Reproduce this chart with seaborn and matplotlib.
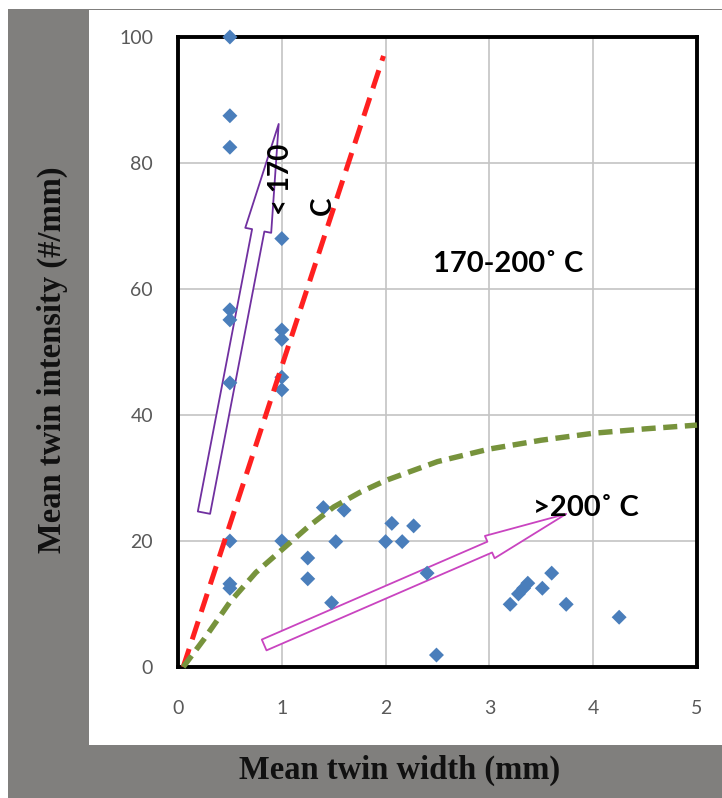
import numpy as np
import pandas as pd
import matplotlib
matplotlib.use("Agg")
import matplotlib.pyplot as plt
import seaborn as sns
from matplotlib.patches import Rectangle

# ---------------- data ----------------
width_mm = [0.5, 0.5, 0.5, 1.0, 0.5, 0.5, 1.0, 1.0, 0.5, 1.0, 1.0,
            0.5, 1.0, 0.5, 0.5, 1.25, 1.25, 1.4, 1.6, 1.52, 1.48,
            2.0, 2.06, 2.27, 2.16, 2.4, 2.49,
            3.2, 3.28, 3.33, 3.37, 3.51, 3.6, 3.74, 4.25]
intensity = [100, 87.5, 82.5, 68, 56.7, 55.1, 53.5, 52, 45.1, 46, 44,
             20, 20, 13.2, 12.5, 17.3, 14, 25.3, 24.9, 19.9, 10.2,
             19.9, 22.8, 22.4, 19.9, 14.9, 1.9,
             9.95, 11.6, 12.5, 13.3, 12.5, 14.9, 9.95, 7.9]

red_x = [0.05, 1.98]
red_y = [0, 97]

green_x = [0.05, 0.25, 0.5, 0.75, 1.0, 1.25, 1.5, 1.75, 2.0, 2.5, 3.0, 3.5, 4.0, 4.5, 5.0]
green_y = [0, 4.4, 10.3, 15.0, 18.6, 22.2, 25.4, 27.7, 29.6, 32.6, 34.6, 36.0, 37.1, 37.8, 38.4]

x_ticks = [0, 1, 2, 3, 4, 5]
y_ticks = [0, 20, 40, 60, 80, 100]

purple_tail = (0.25, 24.5)
purple_tip = (0.97, 86.2)
magenta_tail = (0.83, 3.5)
magenta_tip = (3.74, 24.3)

label_mid = "170-200˚ C"
label_high = ">200˚ C"
label_low = "< 170\nC"

# ---------------- style ----------------
sns.set_theme(style="white")
plt.rcParams["font.family"] = ["Lato", "DejaVu Sans"]

W, H = 722, 798
fig = plt.figure(figsize=(W / 100, H / 100), dpi=100)
fig.patch.set_facecolor("white")

gray = "#807f7d"
fig.add_artist(Rectangle((8 / W, 0), 1 - 8 / W, 1 - 9 / H, transform=fig.transFigure,
                         facecolor=gray, edgecolor="none", zorder=-3))
fig.add_artist(Rectangle((89 / W, 1 - 745 / H), 1 - 89 / W, (745 - 10) / H,
                         transform=fig.transFigure, facecolor="white",
                         edgecolor="none", zorder=-2))

ax_l, ax_r, ax_t, ax_b = 178, 697, 37, 667
ax = fig.add_axes([ax_l / W, 1 - ax_b / H, (ax_r - ax_l) / W, (ax_b - ax_t) / H])
ax.set_facecolor("white")

df = pd.DataFrame({"width": width_mm, "intensity": intensity})
sns.scatterplot(data=df, x="width", y="intensity", marker="D", s=58,
                color="#4a7ebb", edgecolor="none", ax=ax, zorder=3, clip_on=False)

sns.lineplot(x=red_x, y=red_y, ax=ax, color="#ff2020", lw=3.6,
             linestyle=(0, (3.8, 2.0)), zorder=4, sort=False, estimator=None)
sns.lineplot(x=green_x, y=green_y, ax=ax, color="#77933c", lw=3.9,
             linestyle=(0, (2.6, 1.4)), zorder=4, sort=False, estimator=None,
             clip_on=False)

ax.set_xlim(0, 5)
ax.set_ylim(0, 100)
ax.set_xticks(x_ticks)
ax.set_yticks(y_ticks)
ax.set_xticklabels([str(v) for v in x_ticks])
ax.set_yticklabels([str(v) for v in y_ticks])
ax.tick_params(axis="both", length=0, labelsize=14, labelcolor="#595959")
ax.tick_params(axis="x", pad=24)
ax.tick_params(axis="y", pad=18)
ax.grid(True, color="#c4c4c4", lw=1.2)
ax.set_axisbelow(True)
for sp in ax.spines.values():
    sp.set_visible(True)
    sp.set_color("black")
    sp.set_linewidth(2.8)
ax.set_xlabel("")
ax.set_ylabel("")

# arrows
ax.annotate("", xy=purple_tip, xytext=purple_tail, zorder=2.5,
            arrowprops=dict(arrowstyle="simple,head_length=7.8,head_width=1.9,tail_width=0.9",
                            fc="white", ec="#7030a0", lw=1.3, shrinkA=0, shrinkB=0,
                            mutation_scale=10))
ax.annotate("", xy=magenta_tip, xytext=magenta_tail, zorder=2.5,
            arrowprops=dict(arrowstyle="simple,head_length=6.0,head_width=1.75,tail_width=0.85",
                            fc="white", ec="#c944c0", lw=1.3, shrinkA=0, shrinkB=0,
                            mutation_scale=10))

# annotations
ax.text(2.457, 62.7, label_mid, fontsize=21, fontweight="bold", color="black",
        ha="left", va="baseline", zorder=5)
ax.text(3.42, 24.0, label_high, fontsize=21, fontweight="bold", color="black",
        ha="left", va="baseline", zorder=5)
ax.text(0.87, 71.7, label_low, fontsize=20, fontweight="bold", color="black",
        rotation=90, ha="left", va="bottom", linespacing=1.75, zorder=5)

# axis titles
fig.text(400 / W, 1 - 770 / H, "Mean twin width (mm)", family="Liberation Serif",
         fontweight="bold", fontsize=23.5, color="#111111", ha="center", va="center")
fig.text(52 / W, 1 - 360 / H, "Mean twin intensity (#/mm)", family="Liberation Serif",
         fontweight="bold", fontsize=23.5, color="#111111", ha="center", va="center",
         rotation=90)

fig.savefig("out.png", dpi=100)
